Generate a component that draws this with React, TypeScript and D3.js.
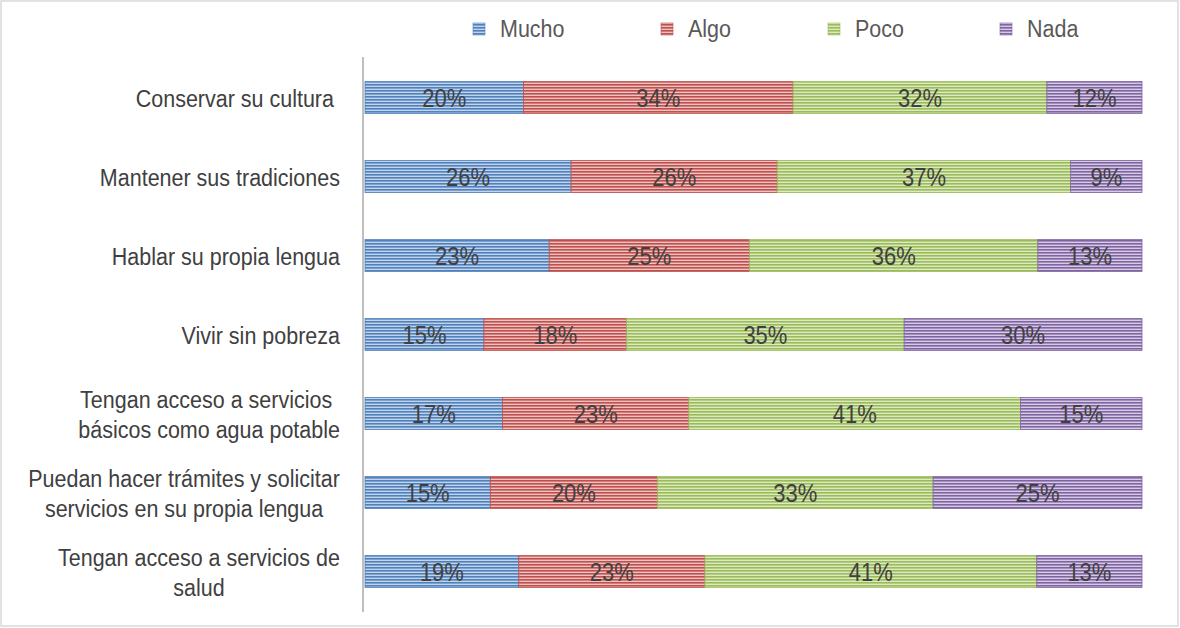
import React from "react";
import * as d3 from "d3";

const categories = [
  ["Conservar su cultura "],
  ["Mantener sus tradiciones"],
  ["Hablar su propia lengua"],
  ["Vivir sin pobreza"],
  ["Tengan acceso a servicios ", "básicos como agua potable"],
  ["Puedan hacer trámites y solicitar", "servicios en su propia lengua"],
  ["Tengan acceso a servicios de", "salud"],
];
const seriesNames = ["Mucho", "Algo", "Poco", "Nada"];
const mucho = [20, 26, 23, 15, 17, 15, 19];
const algo = [34, 26, 25, 18, 23, 20, 23];
const poco = [32, 37, 36, 35, 41, 33, 41];
const nada = [12, 9, 13, 30, 15, 25, 13];
const colors = ["#4f81bd", "#c0504d", "#9bbb59", "#8064a2"];
const lightColors = ["#c3d3ea", "#ecc3c2", "#dceac4", "#d6cbe4"];

const W = 1180;
const H = 628;
const FONT = "'Liberation Sans', Arial, sans-serif";
const FS = 21.5;
const SY = 1.15;

let ctx: CanvasRenderingContext2D | null = null;
function measure(t: string, size: number) {
  if (!ctx) ctx = document.createElement("canvas").getContext("2d");
  if (!ctx) return t.length * size * 0.5;
  ctx.font = `${size}px ${FONT}`;
  return ctx.measureText(t).width;
}

function SText(props: {
  x: number;
  y: number;
  size?: number;
  fill: string;
  anchor?: string;
  children: React.ReactNode;
}) {
  const { x, y, size = FS, fill, anchor = "start", children } = props;
  return (
    <text
      transform={`translate(${x},${y}) scale(1,${SY})`}
      fontSize={size}
      fill={fill}
      textAnchor={anchor}
      style={{ whiteSpace: "pre" }}
    >
      {children}
    </text>
  );
}

export default function App() {
  const rows = categories.map((c, i) => ({
    idx: i,
    Mucho: mucho[i],
    Algo: algo[i],
    Poco: poco[i],
    Nada: nada[i],
  }));
  const stack = d3.stack<any>().keys(seriesNames).offset(d3.stackOffsetExpand);
  const series = stack(rows);

  const x = d3.scaleLinear().domain([0, 1]).range([365, 1142]);
  const y = d3
    .scaleBand<number>()
    .domain(categories.map((_, i) => i))
    .range([58, 611])
    .paddingInner(0.595)
    .paddingOuter(0.2975);

  const legendTextX = [500, 688, 855, 1027];

  return (
    <svg
      width={W}
      height={H}
      style={{ position: "absolute", left: 0, top: 0, background: "#fff" }}
      fontFamily={FONT}
    >
      <defs>
        {colors.map((c, i) => (
          <pattern
            key={i}
            id={`pat${i}`}
            patternUnits="userSpaceOnUse"
            width={6}
            height={3}
          >
            <rect width={6} height={3} fill={lightColors[i]} />
            <rect width={6} height={1.6} fill={c} />
          </pattern>
        ))}
      </defs>
      <rect x={1} y={1} width={W - 3} height={H - 3} fill="#fff" stroke="#d9d9d9" strokeWidth={1.5} />

      {/* legend */}
      {seriesNames.map((s, i) => (
        <g key={s}>
          <rect
            x={legendTextX[i] - 27}
            y={23}
            width={12}
            height={12}
            fill={`url(#pat${i})`}
            stroke={colors[i]}
            strokeWidth={0.6}
          />
          <SText x={legendTextX[i]} y={37} fill="#595959">
            {s}
          </SText>
        </g>
      ))}

      {/* bars */}
      {series.map((ser, si) => (
        <g key={ser.key}>
          {ser.map((d, ri) => {
            const x0 = x(d[0]);
            const x1 = x(d[1]);
            const yy = y(ri)!;
            return (
              <rect
                key={ri}
                x={x0}
                y={yy}
                width={x1 - x0}
                height={y.bandwidth()}
                fill={`url(#pat${si})`}
                stroke={colors[si]}
                strokeWidth={0.8}
              />
            );
          })}
        </g>
      ))}
      {/* data labels */}
      {series.map((ser) => (
        <g key={ser.key + "l"}>
          {ser.map((d, ri) => {
            const x0 = x(d[0]);
            const x1 = x(d[1]);
            const cy = y(ri)! + y.bandwidth() / 2;
            return (
              <SText key={ri} x={(x0 + x1) / 2} y={cy + 9} anchor="middle" fill="#404040" size={22}>
                {`${(d.data as any)[ser.key]}%`}
              </SText>
            );
          })}
        </g>
      ))}

      {/* axis line */}
      <line x1={363} x2={363} y1={57} y2={612} stroke="#bfbfbf" strokeWidth={2} />

      {/* category labels */}
      {categories.map((lines, i) => {
        const cy = y(i)! + y.bandwidth() / 2;
        const lh = 30;
        const startY = cy - ((lines.length - 1) * lh) / 2 + 9;
        const maxW = Math.max(...lines.map((l) => measure(l, FS)));
        const centerX = 340 - maxW / 2;
        return (
          <g key={i}>
            {lines.map((l, li) => (
              <SText key={li} x={centerX} y={startY + li * lh} anchor="middle" fill="#404040">
                {l}
              </SText>
            ))}
          </g>
        );
      })}
    </svg>
  );
}
